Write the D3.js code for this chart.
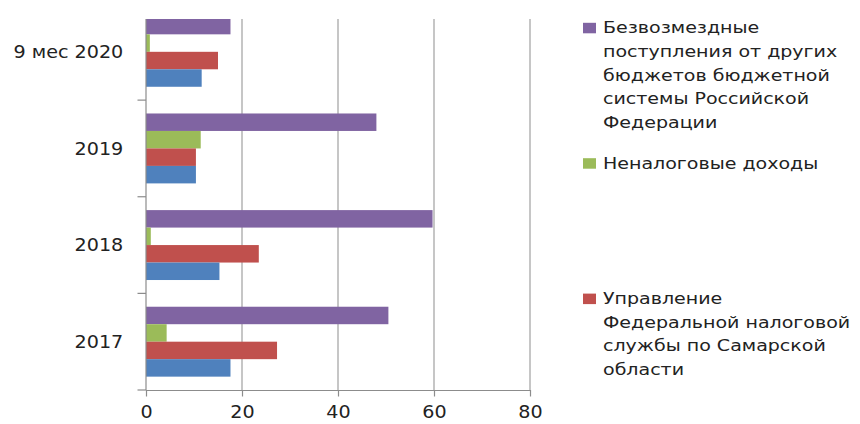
<!DOCTYPE html>
<html>
<head>
<meta charset="utf-8">
<script src="https://cdn.jsdelivr.net/npm/d3@7"></script>
<style>
  body { margin: 0; background: #fff; }
  svg { display: block; font-family: "DejaVu Sans", sans-serif; }
</style>
</head>
<body>
<div id="container"></div>
<script>
// categories bottom to top
const categories = ['2017', '2018', '2019', '9 мес 2020'];

// series, in legend / top-to-bottom order inside a group
const seriesKeys = ['purple', 'green', 'red', 'blue'];
const purpleValues = [50.5, 59.7, 48.0, 17.6];
const greenValues = [4.3, 1.0, 11.4, 0.8];
const redValues = [27.3, 23.5, 10.4, 15.0];
const blueValues = [17.6, 15.3, 10.4, 11.6];

const legendLabels = [
  ['Безвозмездные', 'поступления от других', 'бюджетов бюджетной', 'системы Российской', 'Федерации'],
  ['Неналоговые доходы'],
  ['Управление', 'Федеральной налоговой', 'службы по Самарской', 'области']
];

const xTicks = [0, 20, 40, 60, 80];

const colors = {
  purple: '#8064A2',
  green: '#9BBB59',
  red: '#C0504D',
  blue: '#4F81BD'
};

const valuesByKey = {
  purple: purpleValues,
  green: greenValues,
  red: redValues,
  blue: blueValues
};

const width = 860;
const height = 424;

const svg = d3.select('#container')
  .append('svg')
  .attr('width', width)
  .attr('height', height);

// plot area
const plotLeft = 146, plotRight = 530, plotBottom = 390, plotTop = 3.5, clipTop = 19;

let xScale = d3.scaleLinear().domain([0, 80]).range([plotLeft, plotRight]);
let yScale = d3.scaleBand().domain(categories).range([plotBottom, plotTop]).padding(0);
let yInner = d3.scaleBand()
  .domain(seriesKeys)
  .range([0, yScale.bandwidth()])
  .paddingInner(0)
  .paddingOuter(0.764);

svg.append('defs').append('clipPath')
  .attr('id', 'plotclip')
  .append('rect')
  .attr('x', 0).attr('y', clipTop)
  .attr('width', width).attr('height', plotBottom - clipTop + 20);

const plot = svg.append('g').attr('clip-path', 'url(#plotclip)');

// gridlines
plot.selectAll('.grid')
  .data(xTicks.slice(1))
  .enter()
  .append('line')
  .attr('x1', d => xScale(d)).attr('x2', d => xScale(d))
  .attr('y1', clipTop).attr('y2', plotBottom)
  .attr('stroke', '#a0a0a0')
  .attr('stroke-width', 1.2);

// bars
let rows = [];
categories.forEach((c, i) => {
  seriesKeys.forEach(k => rows.push({cat: c, key: k, value: valuesByKey[k][i]}));
});

plot.selectAll('.bar')
  .data(rows)
  .enter()
  .append('rect')
  .attr('x', xScale(0))
  .attr('y', d => yScale(d.cat) + yInner(d.key))
  .attr('width', d => xScale(d.value) - xScale(0))
  .attr('height', yInner.bandwidth())
  .attr('fill', d => colors[d.key]);

// left axis: line, ticks at category boundaries
const axisColor = '#8c8c8c';
plot.append('line')
  .attr('x1', plotLeft).attr('x2', plotLeft)
  .attr('y1', clipTop).attr('y2', plotBottom)
  .attr('stroke', axisColor).attr('stroke-width', 1.2);

let boundaries = categories.map(c => yScale(c));
plot.selectAll('.ytick')
  .data(boundaries)
  .enter()
  .append('line')
  .attr('x1', plotLeft - 8.5).attr('x2', plotLeft)
  .attr('y1', d => d).attr('y2', d => d)
  .attr('stroke', axisColor).attr('stroke-width', 1.2);

// category labels
const tickStretch = 1.1;
svg.selectAll('.ylabel')
  .data(categories)
  .enter()
  .append('text')
  .attr('transform', d => `translate(${plotLeft - 22.7},${yScale(d) + yScale.bandwidth() / 2}) scale(${tickStretch},1)`)
  .attr('dy', '0.36em')
  .attr('text-anchor', 'end')
  .attr('font-size', 17.4)
  .attr('fill', '#222')
  .text(d => d);

// bottom axis
const xAxis = svg.append('g')
  .attr('transform', `translate(0,${plotBottom})`)
  .call(d3.axisBottom(xScale).tickValues(xTicks).tickSize(6.5).tickSizeOuter(0).tickPadding(9.5));

xAxis.select('.domain').attr('stroke', axisColor).attr('stroke-width', 1.2);
xAxis.selectAll('.tick line').attr('stroke', axisColor).attr('stroke-width', 1.2);
xAxis.selectAll('.tick text')
  .attr('font-size', 17.4)
  .attr('font-family', '"DejaVu Sans", sans-serif')
  .attr('fill', '#222')
  .attr('transform', `scale(${tickStretch},1)`);

svg.append('line')
  .attr('x1', plotLeft - 8.5).attr('x2', plotLeft)
  .attr('y1', plotBottom).attr('y2', plotBottom)
  .attr('stroke', axisColor).attr('stroke-width', 1.2);

// legend (blue entry falls outside the picture)
const legendX = 583, legendTextX = 603, legendTop = 33.3, legendStep = 135.4, lineStep = 23.6;
const legendStretch = 1.16;

const legend = svg.append('g');
legendLabels.forEach((lines, i) => {
  let baseY = legendTop + i * legendStep;
  legend.append('rect')
    .attr('x', legendX)
    .attr('y', baseY - 10.5)
    .attr('width', 13)
    .attr('height', 10.5)
    .attr('fill', colors[seriesKeys[i]]);

  legend.selectAll(`.leg${i}`)
    .data(lines)
    .enter()
    .append('text')
    .attr('transform', (d, j) => `translate(${legendTextX},${baseY + j * lineStep}) scale(${legendStretch},1)`)
    .attr('font-size', 16.4)
    .attr('fill', '#222')
    .text(d => d);
});
</script>
</body>
</html>
